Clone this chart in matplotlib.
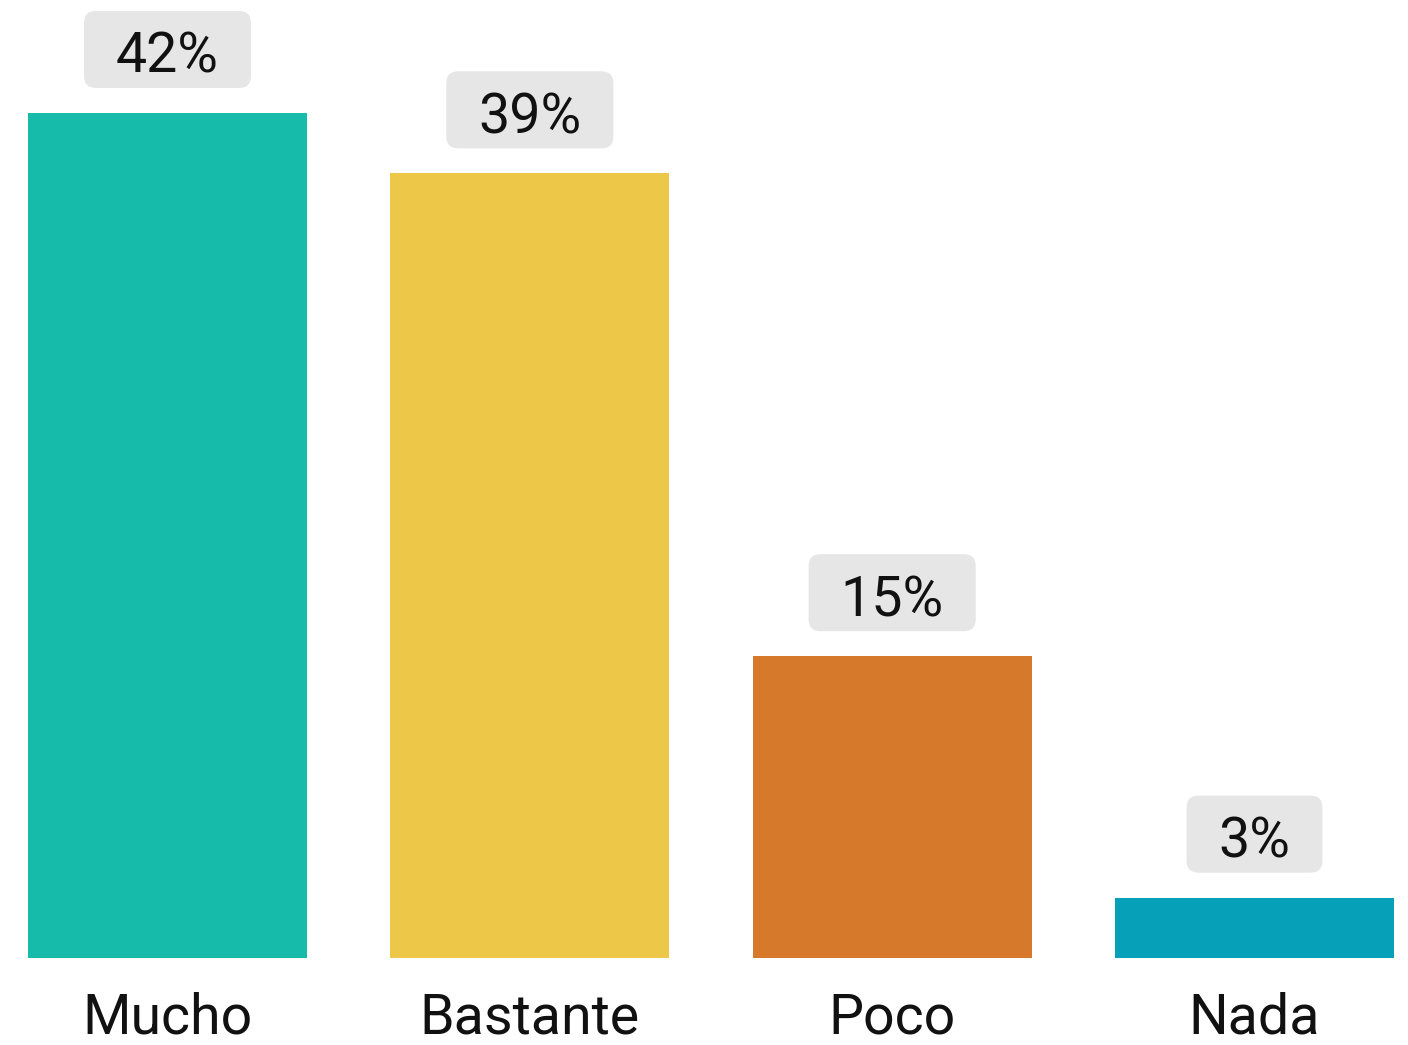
import matplotlib
matplotlib.use("Agg")
import matplotlib.pyplot as plt
from matplotlib.patches import FancyBboxPatch
from matplotlib.transforms import IdentityTransform

categories = ["Mucho", "Bastante", "Poco", "Nada"]
values = [42, 39, 15, 3]
labels = ["42%", "39%", "15%", "3%"]
colors = ["#16BBAA", "#ECC748", "#D6792A", "#06A0B8"]

W, H, DPI = 1408, 1045, 100
PXU = 20.12  # pixels per percent unit
fig = plt.figure(figsize=(W / DPI, H / DPI), dpi=DPI)
ax = fig.add_axes([28 / W, (H - 958) / H, (1394 - 28) / W, 958 / H])

bw = 0.77
x = list(range(len(categories)))
ax.bar(x, values, width=bw, color=colors)
ax.set_xlim(-bw / 2, len(categories) - 1 + bw / 2)
ax.set_ylim(0, 958 / PXU)
for s in ax.spines.values():
    s.set_visible(False)
ax.set_yticks([])
ax.set_xticks(x)
ax.set_xticklabels(categories, fontsize=40, family="Roboto", color="#111111")
ax.tick_params(axis="x", length=0, pad=24)

texts = []
for xi, v, lab in zip(x, values, labels):
    t = ax.text(xi, v + 40 / PXU, lab, ha="center", va="baseline", fontsize=40,
                family="Roboto", color="#111111", zorder=5)
    texts.append(t)

fig.canvas.draw()
r = fig.canvas.get_renderer()
for t, xi, v in zip(texts, x, values):
    bb = t.get_window_extent(r)
    cx = (bb.x0 + bb.x1) / 2
    _, cy = ax.transData.transform((xi, v + 63.5 / PXU))
    bw_px = bb.width + 64
    bh_px = 77
    p = FancyBboxPatch((cx - bw_px / 2, cy - bh_px / 2), bw_px, bh_px,
                       boxstyle="round,pad=0,rounding_size=12",
                       transform=IdentityTransform(), facecolor="#E6E6E6",
                       edgecolor="none", zorder=4, clip_on=False)
    ax.add_artist(p)

fig.savefig("out.png", dpi=DPI)
